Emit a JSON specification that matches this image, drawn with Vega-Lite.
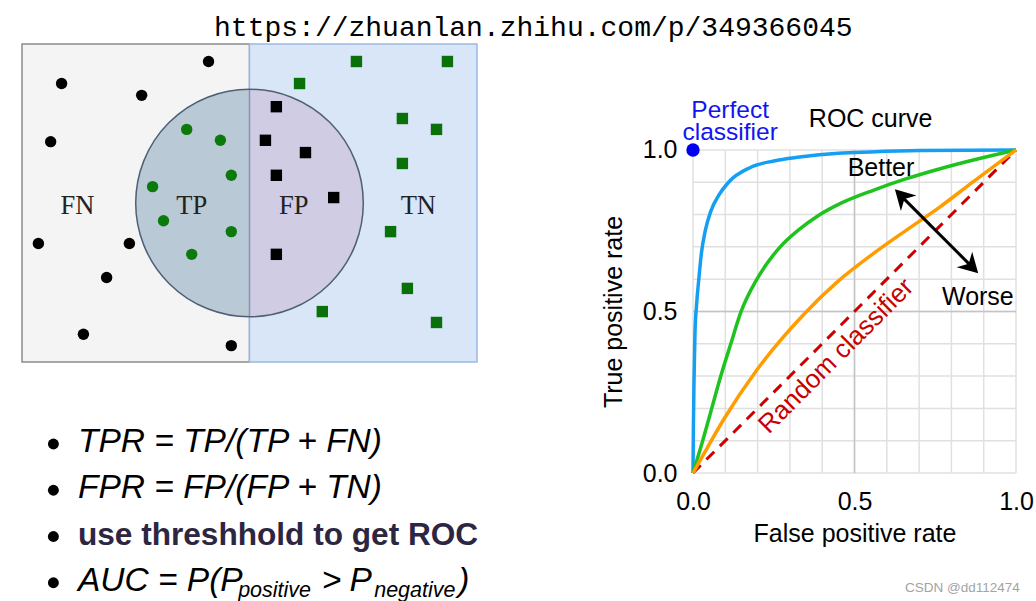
{
  "$schema": "https://vega.github.io/schema/vega-lite/v6.json",
  "background": "white",
  "padding": {"left": 21, "top": 14, "right": 0, "bottom": 0},
  "config": {
    "view": {"stroke": null},
    "font": "Liberation Sans",
    "axis": {"grid": false, "domain": false, "ticks": false, "labelFlush": false, "labelOverlap": false,
      "labelFont": "Liberation Sans", "labelFontSize": 25, "labelColor": "#000000",
      "titleFont": "Liberation Sans", "titleFontSize": 25, "titleFontWeight": "normal", "titleColor": "#000000"}
  },
  "title": {"text": "https://zhuanlan.zhihu.com/p/349366045", "font": "Liberation Mono", "fontSize": 28, "fontWeight": "normal", "color": "#000", "anchor": "middle", "offset": 1, "dx": 6},
  "resolve": {"scale": {"color": "independent", "shape": "independent"}},
  "datasets": {
    "samples": [
      {"cls": "FN", "x": 41.0, "y": 3.85}, {"cls": "FN", "x": 8.7, "y": 8.7}, {"cls": "FN", "x": 26.3, "y": 11.3},
      {"cls": "FN", "x": 6.3, "y": 21.5}, {"cls": "FN", "x": 3.6, "y": 43.9}, {"cls": "FN", "x": 23.6, "y": 43.9},
      {"cls": "FN", "x": 18.6, "y": 51.4}, {"cls": "FN", "x": 13.5, "y": 63.9}, {"cls": "FN", "x": 46.0, "y": 66.4},
      {"cls": "TP", "x": 36.2, "y": 18.8}, {"cls": "TP", "x": 43.6, "y": 21.2}, {"cls": "TP", "x": 46.0, "y": 28.9},
      {"cls": "TP", "x": 28.7, "y": 31.4}, {"cls": "TP", "x": 31.1, "y": 38.9}, {"cls": "TP", "x": 46.0, "y": 41.3},
      {"cls": "TP", "x": 37.3, "y": 46.3},
      {"cls": "FP", "x": 55.9, "y": 13.8}, {"cls": "FP", "x": 53.5, "y": 21.2}, {"cls": "FP", "x": 62.3, "y": 23.9},
      {"cls": "FP", "x": 55.9, "y": 28.9}, {"cls": "FP", "x": 68.5, "y": 33.8}, {"cls": "FP", "x": 55.9, "y": 46.3},
      {"cls": "TN", "x": 73.5, "y": 3.85}, {"cls": "TN", "x": 93.5, "y": 3.85}, {"cls": "TN", "x": 61.0, "y": 8.7},
      {"cls": "TN", "x": 83.6, "y": 16.4}, {"cls": "TN", "x": 91.1, "y": 18.8}, {"cls": "TN", "x": 83.6, "y": 26.3},
      {"cls": "TN", "x": 81.0, "y": 41.3}, {"cls": "TN", "x": 84.7, "y": 53.8}, {"cls": "TN", "x": 66.0, "y": 58.9},
      {"cls": "TN", "x": 91.1, "y": 61.3}
    ],
    "regionLabels": [
      {"label": "FN", "x": 12.2, "y": 37.5}, {"label": "TP", "x": 37.3, "y": 37.5},
      {"label": "FP", "x": 59.7, "y": 37.5}, {"label": "TN", "x": 87.1, "y": 37.5}
    ],
    "formulas": [
      {"line": 1, "x": 12.3, "text": "TPR = TP/(TP + FN)", "kind": "formula"},
      {"line": 2, "x": 12.3, "text": "FPR = FP/(FP + TN)", "kind": "formula"},
      {"line": 3, "x": 12.3, "text": "use threshhold to get ROC", "kind": "note"},
      {"line": 4, "x": 12.3, "text": "AUC = P(P", "kind": "formula"},
      {"line": 4, "x": 47.5, "text": "positive", "kind": "subscript"},
      {"line": 4, "x": 65.9, "text": ">", "kind": "formula"},
      {"line": 4, "x": 72.0, "text": "P", "kind": "formula"},
      {"line": 4, "x": 77.4, "text": "negative", "kind": "subscript"},
      {"line": 4, "x": 95.9, "text": ")", "kind": "formula"}
    ],
    "gridlines": [
      {"value": 0, "weight": "minor"}, {"value": 0.1, "weight": "minor"}, {"value": 0.2, "weight": "minor"},
      {"value": 0.3, "weight": "minor"}, {"value": 0.4, "weight": "minor"}, {"value": 0.5, "weight": "major"},
      {"value": 0.6, "weight": "minor"}, {"value": 0.7, "weight": "minor"}, {"value": 0.8, "weight": "minor"},
      {"value": 0.9, "weight": "minor"}, {"value": 1, "weight": "minor"}
    ],
    "roc": [
      {"curve": "excellent", "fpr": 0, "tpr": 0}, {"curve": "excellent", "fpr": 0.001, "tpr": 0.12},
      {"curve": "excellent", "fpr": 0.003, "tpr": 0.28}, {"curve": "excellent", "fpr": 0.006, "tpr": 0.43},
      {"curve": "excellent", "fpr": 0.011, "tpr": 0.52}, {"curve": "excellent", "fpr": 0.018, "tpr": 0.6},
      {"curve": "excellent", "fpr": 0.026, "tpr": 0.68}, {"curve": "excellent", "fpr": 0.038, "tpr": 0.75},
      {"curve": "excellent", "fpr": 0.055, "tpr": 0.81}, {"curve": "excellent", "fpr": 0.08, "tpr": 0.86},
      {"curve": "excellent", "fpr": 0.11, "tpr": 0.9}, {"curve": "excellent", "fpr": 0.176, "tpr": 0.945},
      {"curve": "excellent", "fpr": 0.25, "tpr": 0.966}, {"curve": "excellent", "fpr": 0.33, "tpr": 0.978},
      {"curve": "excellent", "fpr": 0.45, "tpr": 0.99}, {"curve": "excellent", "fpr": 0.55, "tpr": 0.994},
      {"curve": "excellent", "fpr": 0.7, "tpr": 0.998}, {"curve": "excellent", "fpr": 1, "tpr": 1},
      {"curve": "good", "fpr": 0, "tpr": 0}, {"curve": "good", "fpr": 0.03, "tpr": 0.1},
      {"curve": "good", "fpr": 0.058, "tpr": 0.2}, {"curve": "good", "fpr": 0.086, "tpr": 0.3},
      {"curve": "good", "fpr": 0.117, "tpr": 0.4}, {"curve": "good", "fpr": 0.149, "tpr": 0.5},
      {"curve": "good", "fpr": 0.198, "tpr": 0.6}, {"curve": "good", "fpr": 0.27, "tpr": 0.7},
      {"curve": "good", "fpr": 0.33, "tpr": 0.755}, {"curve": "good", "fpr": 0.385, "tpr": 0.795},
      {"curve": "good", "fpr": 0.46, "tpr": 0.836}, {"curve": "good", "fpr": 0.56, "tpr": 0.876},
      {"curve": "good", "fpr": 0.661, "tpr": 0.911}, {"curve": "good", "fpr": 0.765, "tpr": 0.942},
      {"curve": "good", "fpr": 0.868, "tpr": 0.969}, {"curve": "good", "fpr": 1, "tpr": 1},
      {"curve": "fair", "fpr": 0, "tpr": 0}, {"curve": "fair", "fpr": 0.02, "tpr": 0.035},
      {"curve": "fair", "fpr": 0.094, "tpr": 0.164}, {"curve": "fair", "fpr": 0.197, "tpr": 0.318},
      {"curve": "fair", "fpr": 0.342, "tpr": 0.49}, {"curve": "fair", "fpr": 0.445, "tpr": 0.59},
      {"curve": "fair", "fpr": 0.558, "tpr": 0.679}, {"curve": "fair", "fpr": 0.661, "tpr": 0.752},
      {"curve": "fair", "fpr": 0.765, "tpr": 0.824}, {"curve": "fair", "fpr": 0.868, "tpr": 0.902},
      {"curve": "fair", "fpr": 1, "tpr": 1}
    ],
    "annotations": [
      {"label": "Perfect\nclassifier", "fpr": 0.115, "tpr": 1.098, "kind": "perfect"},
      {"label": "ROC curve", "fpr": 0.55, "tpr": 1.07, "kind": "heading"},
      {"label": "Better", "fpr": 0.582, "tpr": 0.92, "kind": "direction"},
      {"label": "Worse", "fpr": 0.882, "tpr": 0.52, "kind": "direction"},
      {"label": "Random classifier", "fpr": 0.443, "tpr": 0.362, "kind": "random"},
      {"label": "CSDN @dd112474", "fpr": 1.012, "tpr": -0.367, "kind": "watermark"}
    ]
  },
  "spacing": 122,
  "hconcat": [
    {
      "spacing": 52,
      "vconcat": [
        {
          "width": 455,
          "height": 318,
          "layer": [
            {
              "data": {"values": [{"region": "actual positive", "x1": 0, "x2": 50}]},
              "mark": {"type": "rect", "fill": "#f4f4f4", "stroke": "#8c8c8c", "strokeWidth": 1.5},
              "encoding": {
                "x": {"field": "x1", "type": "quantitative", "scale": {"domain": [0, 100], "nice": false}, "axis": null},
                "x2": {"field": "x2"},
                "y": {"datum": 0, "type": "quantitative", "scale": {"domain": [0, 70], "nice": false, "reverse": true}, "axis": null},
                "y2": {"datum": 70}
              }
            },
            {
              "data": {"values": [{"region": "actual negative", "x1": 50, "x2": 100}]},
              "mark": {"type": "rect", "fill": "#d9e6f8", "stroke": "#9db8e2", "strokeWidth": 1.5},
              "encoding": {
                "x": {"field": "x1", "type": "quantitative", "scale": {"domain": [0, 100], "nice": false}, "axis": null},
                "x2": {"field": "x2"},
                "y": {"datum": 0, "type": "quantitative", "scale": {"domain": [0, 70], "nice": false, "reverse": true}, "axis": null},
                "y2": {"datum": 70}
              }
            },
            {
              "data": {"values": [{"part": "predicted positive, actual positive", "x": 50, "y": 35}]},
              "mark": {"type": "point", "shape": "M0,-1 A1,1 0 0 0 0,1 Z", "filled": true, "fill": "#b9c9d5", "opacity": 1, "strokeWidth": 0, "size": 51800},
              "encoding": {
                "x": {"field": "x", "type": "quantitative", "scale": {"domain": [0, 100], "nice": false}, "axis": null},
                "y": {"field": "y", "type": "quantitative", "scale": {"domain": [0, 70], "nice": false, "reverse": true}, "axis": null}
              }
            },
            {
              "data": {"values": [{"part": "predicted positive, actual negative", "x": 50, "y": 35}]},
              "mark": {"type": "point", "shape": "M0,-1 A1,1 0 0 1 0,1 Z", "filled": true, "fill": "#cfcce4", "opacity": 1, "strokeWidth": 0, "size": 51800},
              "encoding": {
                "x": {"field": "x", "type": "quantitative", "scale": {"domain": [0, 100], "nice": false}, "axis": null},
                "y": {"field": "y", "type": "quantitative", "scale": {"domain": [0, 70], "nice": false, "reverse": true}, "axis": null}
              }
            },
            {
              "data": {"values": [{"x": 50, "y1": 10, "y2": 60}]},
              "mark": {"type": "rule", "color": "#8c8fb8", "strokeWidth": 1.5},
              "encoding": {
                "x": {"field": "x", "type": "quantitative", "scale": {"domain": [0, 100], "nice": false}, "axis": null},
                "y": {"field": "y1", "type": "quantitative", "scale": {"domain": [0, 70], "nice": false, "reverse": true}, "axis": null},
                "y2": {"field": "y2"}
              }
            },
            {
              "data": {"values": [{"part": "predicted positive", "x": 50, "y": 35}]},
              "mark": {"type": "point", "shape": "circle", "filled": false, "stroke": "#4d6075", "strokeWidth": 1.5, "opacity": 1, "size": 51800},
              "encoding": {
                "x": {"field": "x", "type": "quantitative", "scale": {"domain": [0, 100], "nice": false}, "axis": null},
                "y": {"field": "y", "type": "quantitative", "scale": {"domain": [0, 70], "nice": false, "reverse": true}, "axis": null}
              }
            },
            {
              "data": {"name": "samples"},
              "mark": {"type": "point", "filled": true, "opacity": 1, "size": 130, "strokeWidth": 0},
              "encoding": {
                "x": {"field": "x", "type": "quantitative", "scale": {"domain": [0, 100], "nice": false}, "axis": null},
                "y": {"field": "y", "type": "quantitative", "scale": {"domain": [0, 70], "nice": false, "reverse": true}, "axis": null},
                "shape": {"field": "cls", "type": "nominal", "scale": {"domain": ["FN", "TP", "FP", "TN"], "range": ["circle", "circle", "square", "square"]}, "legend": null},
                "color": {"field": "cls", "type": "nominal", "scale": {"domain": ["FN", "TP", "FP", "TN"], "range": ["#000000", "#0b7a0b", "#000000", "#0a700a"]}, "legend": null}
              }
            },
            {
              "data": {"name": "regionLabels"},
              "mark": {"type": "text", "font": "Liberation Serif", "fontSize": 26.5, "color": "#222222", "align": "center", "baseline": "alphabetic"},
              "encoding": {
                "x": {"field": "x", "type": "quantitative", "scale": {"domain": [0, 100], "nice": false}, "axis": null},
                "y": {"field": "y", "type": "quantitative", "scale": {"domain": [0, 70], "nice": false, "reverse": true}, "axis": null},
                "text": {"field": "label"}
              }
            }
          ]
        },
        {
          "width": 455,
          "height": 185,
          "data": {"name": "formulas"},
          "layer": [
            {
              "data": {"values": [{"line": 1}, {"line": 2}, {"line": 3}, {"line": 4}]},
              "mark": {"type": "point", "shape": "circle", "filled": true, "color": "#000000", "opacity": 1, "size": 120, "strokeWidth": 0, "yOffset": -8},
              "encoding": {
                "x": {"datum": 6.9, "type": "quantitative", "scale": {"domain": [0, 100], "nice": false}, "axis": null},
                "y": {"field": "line", "type": "quantitative", "scale": {"domain": [0.2, 4.2], "nice": false, "reverse": true}, "axis": null}
              }
            },
            {
              "transform": [{"filter": "datum.kind === 'formula'"}],
              "mark": {"type": "text", "font": "Liberation Sans", "fontStyle": "italic", "fontSize": 33.5, "align": "left", "baseline": "alphabetic", "color": "#000000"},
              "encoding": {
                "x": {"field": "x", "type": "quantitative", "scale": {"domain": [0, 100], "nice": false}, "axis": null},
                "y": {"field": "line", "type": "quantitative", "scale": {"domain": [0.2, 4.2], "nice": false, "reverse": true}, "axis": null},
                "text": {"field": "text"}
              }
            },
            {
              "transform": [{"filter": "datum.kind === 'subscript'"}],
              "mark": {"type": "text", "font": "Liberation Sans", "fontStyle": "italic", "fontSize": 21.5, "align": "left", "baseline": "alphabetic", "dy": 6, "color": "#000000"},
              "encoding": {
                "x": {"field": "x", "type": "quantitative", "scale": {"domain": [0, 100], "nice": false}, "axis": null},
                "y": {"field": "line", "type": "quantitative", "scale": {"domain": [0.2, 4.2], "nice": false, "reverse": true}, "axis": null},
                "text": {"field": "text"}
              }
            },
            {
              "transform": [{"filter": "datum.kind === 'note'"}],
              "mark": {"type": "text", "font": "Liberation Sans", "fontWeight": "bold", "fontSize": 31.6, "align": "left", "baseline": "alphabetic", "color": "#2d2642"},
              "encoding": {
                "x": {"field": "x", "type": "quantitative", "scale": {"domain": [0, 100], "nice": false}, "axis": null},
                "y": {"field": "line", "type": "quantitative", "scale": {"domain": [0.2, 4.2], "nice": false, "reverse": true}, "axis": null},
                "text": {"field": "text"}
              }
            }
          ]
        }
      ]
    },
    {
      "width": 323,
      "height": 429,
      "layer": [
        {
          "data": {"name": "gridlines"},
          "mark": {"type": "rule", "strokeWidth": 1.5, "color": "#e0e0e0"},
          "encoding": {
            "x": {"field": "value", "type": "quantitative", "scale": {"domain": [0, 1], "nice": false},
              "axis": {"values": [0, 0.5, 1], "format": ".1f", "labelPadding": 16, "title": "False positive rate", "titlePadding": 7}},
            "y": {"datum": 0, "type": "quantitative", "scale": {"domain": [0, 1.328], "nice": false},
              "axis": {"values": [0, 0.5, 1], "format": ".1f", "labelPadding": 16, "title": "True positive rate", "titlePadding": 16, "titleY": 267.5}},
            "y2": {"datum": 1}
          }
        },
        {
          "data": {"name": "gridlines"},
          "mark": {"type": "rule", "strokeWidth": 1.5, "color": "#e0e0e0"},
          "encoding": {
            "y": {"field": "value", "type": "quantitative", "scale": {"domain": [0, 1.328], "nice": false},
              "axis": {"values": [0, 0.5, 1], "format": ".1f", "labelPadding": 16, "title": "True positive rate", "titlePadding": 16, "titleY": 267.5}},
            "x": {"datum": 0, "type": "quantitative", "scale": {"domain": [0, 1], "nice": false},
              "axis": {"values": [0, 0.5, 1], "format": ".1f", "labelPadding": 16, "title": "False positive rate", "titlePadding": 7}},
            "x2": {"datum": 1}
          }
        },
        {
          "data": {"name": "gridlines"},
          "transform": [{"filter": "datum.weight === 'major'"}],
          "mark": {"type": "rule", "strokeWidth": 1.5, "color": "#c4c4c4"},
          "encoding": {
            "x": {"field": "value", "type": "quantitative", "scale": {"domain": [0, 1], "nice": false},
              "axis": {"values": [0, 0.5, 1], "format": ".1f", "labelPadding": 16, "title": "False positive rate", "titlePadding": 7}},
            "y": {"datum": 0, "type": "quantitative", "scale": {"domain": [0, 1.328], "nice": false},
              "axis": {"values": [0, 0.5, 1], "format": ".1f", "labelPadding": 16, "title": "True positive rate", "titlePadding": 16, "titleY": 267.5}},
            "y2": {"datum": 1}
          }
        },
        {
          "data": {"name": "gridlines"},
          "transform": [{"filter": "datum.weight === 'major'"}],
          "mark": {"type": "rule", "strokeWidth": 1.5, "color": "#c4c4c4"},
          "encoding": {
            "y": {"field": "value", "type": "quantitative", "scale": {"domain": [0, 1.328], "nice": false},
              "axis": {"values": [0, 0.5, 1], "format": ".1f", "labelPadding": 16, "title": "True positive rate", "titlePadding": 16, "titleY": 267.5}},
            "x": {"datum": 0, "type": "quantitative", "scale": {"domain": [0, 1], "nice": false},
              "axis": {"values": [0, 0.5, 1], "format": ".1f", "labelPadding": 16, "title": "False positive rate", "titlePadding": 7}},
            "x2": {"datum": 1}
          }
        },
        {
          "data": {"values": [{"fpr": 0, "tpr": 0}, {"fpr": 1, "tpr": 1}]},
          "mark": {"type": "line", "color": "#cc0000", "strokeWidth": 3, "strokeDash": [11, 8]},
          "encoding": {
            "x": {"field": "fpr", "type": "quantitative", "scale": {"domain": [0, 1], "nice": false},
              "axis": {"values": [0, 0.5, 1], "format": ".1f", "labelPadding": 16, "title": "False positive rate", "titlePadding": 7}},
            "y": {"field": "tpr", "type": "quantitative", "scale": {"domain": [0, 1.328], "nice": false},
              "axis": {"values": [0, 0.5, 1], "format": ".1f", "labelPadding": 16, "title": "True positive rate", "titlePadding": 16, "titleY": 267.5}}
          }
        },
        {
          "data": {"name": "roc"},
          "mark": {"type": "line", "strokeWidth": 3.5, "interpolate": "monotone"},
          "encoding": {
            "x": {"field": "fpr", "type": "quantitative", "scale": {"domain": [0, 1], "nice": false},
              "axis": {"values": [0, 0.5, 1], "format": ".1f", "labelPadding": 16, "title": "False positive rate", "titlePadding": 7}},
            "y": {"field": "tpr", "type": "quantitative", "scale": {"domain": [0, 1.328], "nice": false},
              "axis": {"values": [0, 0.5, 1], "format": ".1f", "labelPadding": 16, "title": "True positive rate", "titlePadding": 16, "titleY": 267.5}},
            "color": {"field": "curve", "type": "nominal", "scale": {"domain": ["excellent", "good", "fair"], "range": ["#149ff2", "#1fc31f", "#ff9d00"]}, "legend": null}
          }
        },
        {
          "data": {"values": [{"fpr": 0, "tpr": 1}]},
          "mark": {"type": "point", "filled": true, "color": "#0000f0", "opacity": 1, "size": 180},
          "encoding": {
            "x": {"field": "fpr", "type": "quantitative", "scale": {"domain": [0, 1], "nice": false},
              "axis": {"values": [0, 0.5, 1], "format": ".1f", "labelPadding": 16, "title": "False positive rate", "titlePadding": 7}},
            "y": {"field": "tpr", "type": "quantitative", "scale": {"domain": [0, 1.328], "nice": false},
              "axis": {"values": [0, 0.5, 1], "format": ".1f", "labelPadding": 16, "title": "True positive rate", "titlePadding": 16, "titleY": 267.5}}
          }
        },
        {
          "data": {"values": [{"fpr": 0.645, "tpr": 0.857, "fpr2": 0.863, "tpr2": 0.639}]},
          "mark": {"type": "rule", "color": "#000000", "strokeWidth": 3},
          "encoding": {
            "x": {"field": "fpr", "type": "quantitative", "scale": {"domain": [0, 1], "nice": false},
              "axis": {"values": [0, 0.5, 1], "format": ".1f", "labelPadding": 16, "title": "False positive rate", "titlePadding": 7}},
            "y": {"field": "tpr", "type": "quantitative", "scale": {"domain": [0, 1.328], "nice": false},
              "axis": {"values": [0, 0.5, 1], "format": ".1f", "labelPadding": 16, "title": "True positive rate", "titlePadding": 16, "titleY": 267.5}},
            "x2": {"field": "fpr2"},
            "y2": {"field": "tpr2"}
          }
        },
        {
          "data": {"values": [{"end": "better", "fpr": 0.625, "tpr": 0.878}]},
          "mark": {"type": "point", "shape": "M0,0 L1.1,1.95 L0,1.35 L-1.1,1.95 Z", "filled": true, "color": "#000000", "opacity": 1, "strokeWidth": 0, "size": 400, "angle": -45},
          "encoding": {
            "x": {"field": "fpr", "type": "quantitative", "scale": {"domain": [0, 1], "nice": false},
              "axis": {"values": [0, 0.5, 1], "format": ".1f", "labelPadding": 16, "title": "False positive rate", "titlePadding": 7}},
            "y": {"field": "tpr", "type": "quantitative", "scale": {"domain": [0, 1.328], "nice": false},
              "axis": {"values": [0, 0.5, 1], "format": ".1f", "labelPadding": 16, "title": "True positive rate", "titlePadding": 16, "titleY": 267.5}}
          }
        },
        {
          "data": {"values": [{"end": "worse", "fpr": 0.883, "tpr": 0.618}]},
          "mark": {"type": "point", "shape": "M0,0 L1.1,1.95 L0,1.35 L-1.1,1.95 Z", "filled": true, "color": "#000000", "opacity": 1, "strokeWidth": 0, "size": 400, "angle": 135},
          "encoding": {
            "x": {"field": "fpr", "type": "quantitative", "scale": {"domain": [0, 1], "nice": false},
              "axis": {"values": [0, 0.5, 1], "format": ".1f", "labelPadding": 16, "title": "False positive rate", "titlePadding": 7}},
            "y": {"field": "tpr", "type": "quantitative", "scale": {"domain": [0, 1.328], "nice": false},
              "axis": {"values": [0, 0.5, 1], "format": ".1f", "labelPadding": 16, "title": "True positive rate", "titlePadding": 16, "titleY": 267.5}}
          }
        },
        {
          "data": {"name": "annotations"},
          "transform": [{"filter": "datum.kind === 'perfect'"}],
          "mark": {"type": "text", "font": "Liberation Sans", "fontSize": 24.5, "color": "#1414f0", "align": "center", "baseline": "alphabetic", "lineBreak": "\n", "lineHeight": 22},
          "encoding": {
            "x": {"field": "fpr", "type": "quantitative", "scale": {"domain": [0, 1], "nice": false},
              "axis": {"values": [0, 0.5, 1], "format": ".1f", "labelPadding": 16, "title": "False positive rate", "titlePadding": 7}},
            "y": {"field": "tpr", "type": "quantitative", "scale": {"domain": [0, 1.328], "nice": false},
              "axis": {"values": [0, 0.5, 1], "format": ".1f", "labelPadding": 16, "title": "True positive rate", "titlePadding": 16, "titleY": 267.5}},
            "text": {"field": "label"}
          }
        },
        {
          "data": {"name": "annotations"},
          "transform": [{"filter": "datum.kind === 'heading' || datum.kind === 'direction'"}],
          "mark": {"type": "text", "font": "Liberation Sans", "fontSize": 25, "color": "#000000", "align": "center", "baseline": "alphabetic"},
          "encoding": {
            "x": {"field": "fpr", "type": "quantitative", "scale": {"domain": [0, 1], "nice": false},
              "axis": {"values": [0, 0.5, 1], "format": ".1f", "labelPadding": 16, "title": "False positive rate", "titlePadding": 7}},
            "y": {"field": "tpr", "type": "quantitative", "scale": {"domain": [0, 1.328], "nice": false},
              "axis": {"values": [0, 0.5, 1], "format": ".1f", "labelPadding": 16, "title": "True positive rate", "titlePadding": 16, "titleY": 267.5}},
            "text": {"field": "label"}
          }
        },
        {
          "data": {"name": "annotations"},
          "transform": [{"filter": "datum.kind === 'random'"}],
          "mark": {"type": "text", "font": "Liberation Sans", "fontSize": 26, "color": "#c80000", "align": "center", "baseline": "middle", "angle": -45},
          "encoding": {
            "x": {"field": "fpr", "type": "quantitative", "scale": {"domain": [0, 1], "nice": false},
              "axis": {"values": [0, 0.5, 1], "format": ".1f", "labelPadding": 16, "title": "False positive rate", "titlePadding": 7}},
            "y": {"field": "tpr", "type": "quantitative", "scale": {"domain": [0, 1.328], "nice": false},
              "axis": {"values": [0, 0.5, 1], "format": ".1f", "labelPadding": 16, "title": "True positive rate", "titlePadding": 16, "titleY": 267.5}},
            "text": {"field": "label"}
          }
        },
        {
          "data": {"name": "annotations"},
          "transform": [{"filter": "datum.kind === 'watermark'"}],
          "mark": {"type": "text", "font": "Liberation Sans", "fontSize": 13.5, "color": "#a3a3a3", "align": "right", "baseline": "alphabetic"},
          "encoding": {
            "x": {"field": "fpr", "type": "quantitative", "scale": {"domain": [0, 1], "nice": false},
              "axis": {"values": [0, 0.5, 1], "format": ".1f", "labelPadding": 16, "title": "False positive rate", "titlePadding": 7}},
            "y": {"field": "tpr", "type": "quantitative", "scale": {"domain": [0, 1.328], "nice": false},
              "axis": {"values": [0, 0.5, 1], "format": ".1f", "labelPadding": 16, "title": "True positive rate", "titlePadding": 16, "titleY": 267.5}},
            "text": {"field": "label"}
          }
        }
      ]
    }
  ]
}
